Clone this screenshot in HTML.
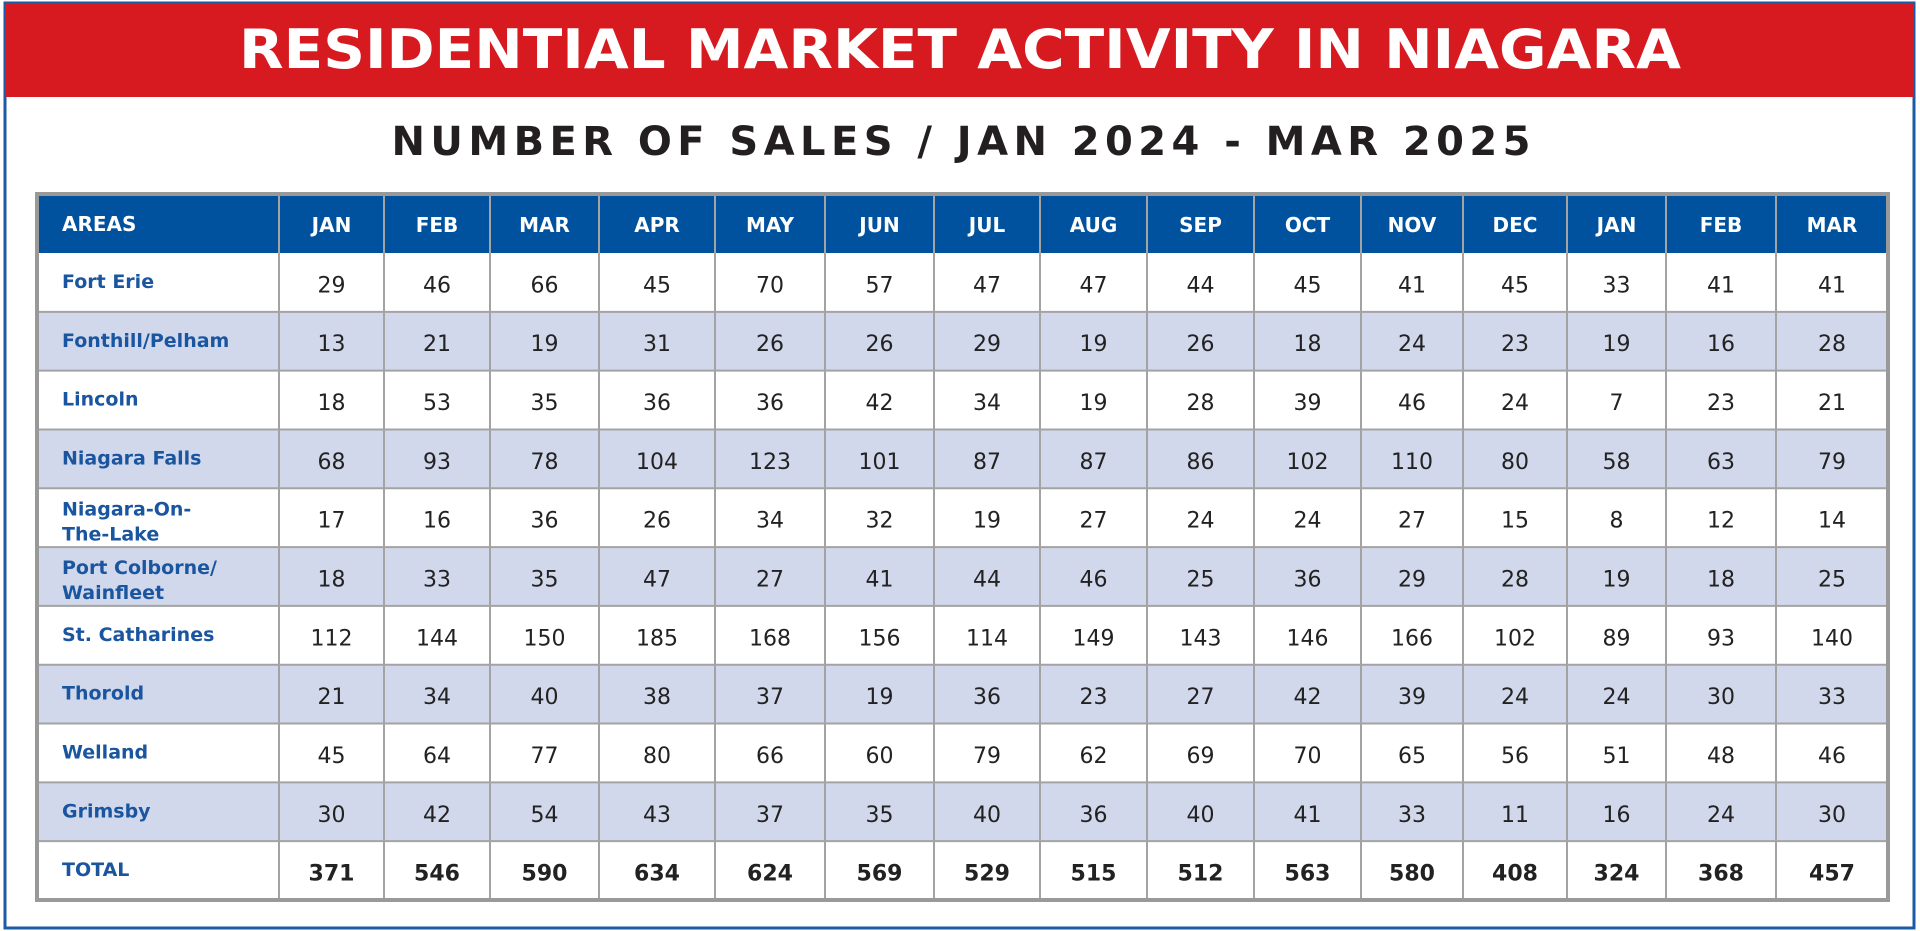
<!DOCTYPE html>
<html><head><meta charset="utf-8"><style>
html,body{margin:0;padding:0;background:#fff;}
svg{display:block;font-family:"DejaVu Sans","Liberation Sans",sans-serif;}
</style></head><body>
<svg id="chart" width="1920" height="931" viewBox="0 0 1920 931" xmlns="http://www.w3.org/2000/svg">
<rect x="5" y="3" width="1909" height="925" fill="#fff" stroke="#1c5aa3" stroke-width="3"/>
<rect x="5" y="3" width="1909" height="94" fill="#d71920"/>
<text x="960" y="68" text-anchor="middle" fill="#fff" font-size="54" font-weight="bold" textLength="1442" lengthAdjust="spacingAndGlyphs">RESIDENTIAL MARKET ACTIVITY IN NIAGARA</text>
<text x="961" y="155" text-anchor="middle" fill="#231f20" font-size="40" font-weight="bold" textLength="1139" lengthAdjust="spacing">NUMBER OF SALES / JAN 2024 - MAR 2025</text>
<g id="tbl"></g>
</svg>
<script>
const areas = [["Fort Erie"],["Fonthill/Pelham"],["Lincoln"],["Niagara Falls"],["Niagara-On-","The-Lake"],["Port Colborne/","Wainfleet"],["St. Catharines"],["Thorold"],["Welland"],["Grimsby"],["TOTAL"]];
const months = ["JAN","FEB","MAR","APR","MAY","JUN","JUL","AUG","SEP","OCT","NOV","DEC","JAN","FEB","MAR"];
const fortErie = [29,46,66,45,70,57,47,47,44,45,41,45,33,41,41];
const fonthill = [13,21,19,31,26,26,29,19,26,18,24,23,19,16,28];
const lincoln = [18,53,35,36,36,42,34,19,28,39,46,24,7,23,21];
const niagaraFalls = [68,93,78,104,123,101,87,87,86,102,110,80,58,63,79];
const notl = [17,16,36,26,34,32,19,27,24,24,27,15,8,12,14];
const portColborne = [18,33,35,47,27,41,44,46,25,36,29,28,19,18,25];
const stCatharines = [112,144,150,185,168,156,114,149,143,146,166,102,89,93,140];
const thorold = [21,34,40,38,37,19,36,23,27,42,39,24,24,30,33];
const welland = [45,64,77,80,66,60,79,62,69,70,65,56,51,48,46];
const grimsby = [30,42,54,43,37,35,40,36,40,41,33,11,16,24,30];
const totals = [371,546,590,634,624,569,529,515,512,563,580,408,324,368,457];
const series = [fortErie,fonthill,lincoln,niagaraFalls,notl,portColborne,stCatharines,thorold,welland,grimsby,totals];

(function(){
const NS="http://www.w3.org/2000/svg";
const g=document.getElementById('tbl');
const colX=[37,279,384,490,599,715,825,934,1040,1147,1254,1361,1463,1567,1666,1776,1888];
const tableTop=194, headH=59, rowH=(900-253)/11;
function mk(tag,attrs){const e=document.createElementNS(NS,tag);for(const k in attrs)e.setAttribute(k,attrs[k]);g.appendChild(e);return e;}
let e=mk('rect',{x:37,y:tableTop,width:1851,height:headH,fill:'#00519e'});


e=mk('text',{x:62,y:tableTop+37,fill:'#fff','font-size':20,'font-weight':'bold'});e.textContent='AREAS';


months.forEach((m,i)=>{const t=mk('text',{x:(colX[i+1]+colX[i+2])/2,y:tableTop+38,fill:'#fff','font-size':20,'font-weight':'bold','text-anchor':'middle'});t.textContent=m;

});
series.forEach((vals,r)=>{
  const y0=253+r*rowH;
  const bg=mk('rect',{x:37,y:y0,width:1851,height:rowH,fill:r%2?'#d1d8eb':'#fff'});
  
  
  const nm=areas[r];
  nm.forEach((line,li)=>{
    const yy = nm.length>1 ? y0+27+li*25 : y0+35;
    const t=mk('text',{x:62,y:yy,fill:'#1a55a0','font-size':19,'font-weight':'bold'});t.textContent=line;
    
    
  });
  vals.forEach((v,i)=>{
    const t=mk('text',{x:(colX[i+1]+colX[i+2])/2,y:y0+rowH/2+10,fill:'#222','font-size':22,'font-weight':r===10?'bold':'normal','text-anchor':'middle'});
    t.textContent=v;
    
    
  });
});
for(let r=1;r<=11;r++){const y=253+r*rowH;const l=mk('line',{x1:37,x2:1888,y1:y,y2:y,stroke:'#a3a3a3','stroke-width':2});

}
colX.slice(1,-1).forEach(x=>{const l=mk('line',{x1:x,x2:x,y1:tableTop,y2:900,stroke:'#a3a3a3','stroke-width':2});

});
e=mk('rect',{x:37,y:tableTop,width:1851,height:900-tableTop,fill:'none',stroke:'#999','stroke-width':4});


})();
</script>
</body></html>
